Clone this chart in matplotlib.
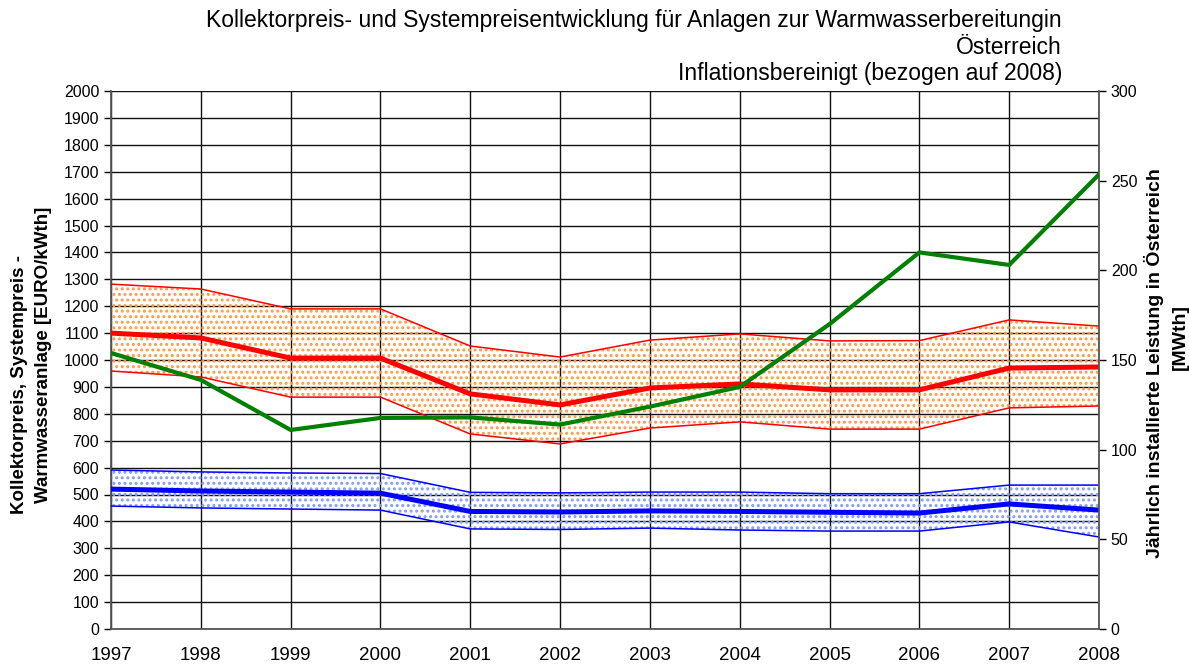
import matplotlib
matplotlib.use("Agg")
import matplotlib.pyplot as plt

plt.rcParams['font.family'] = ['Liberation Sans', 'DejaVu Sans']
plt.rcParams['hatch.linewidth'] = 1.4

years = [1997, 1998, 1999, 2000, 2001, 2002, 2003, 2004, 2005, 2006, 2007, 2008]

system_upper = [1282, 1264, 1190, 1190, 1052, 1011, 1074, 1097, 1071, 1072, 1149, 1126]
system_mean = [1100, 1082, 1007, 1007, 874, 833, 896, 911, 889, 889, 970, 974]
system_lower = [959, 937, 862, 862, 725, 688, 747, 770, 743, 743, 822, 829]

collector_upper = [591, 584, 580, 578, 508, 506, 509, 509, 503, 503, 535, 535]
collector_mean = [520, 513, 509, 505, 437, 435, 439, 437, 434, 431, 465, 442]
collector_lower = [457, 450, 446, 442, 372, 370, 375, 368, 364, 364, 398, 342]

installed_mwth = [153.9, 138.9, 111.0, 117.7, 118.0, 114.0, 124.0, 135.0, 170.0, 210.0, 203.0, 253.5]

title = ("Kollektorpreis- und Systempreisentwicklung für Anlagen zur Warmwasserbereitungin\n"
         "Österreich\n"
         "Inflationsbereinigt (bezogen auf 2008)")
left_label_lines = ["Kollektorpreis, Systempreis -", "Warmwasseranlage [EURO/kWth]"]
right_label_lines = ["Jährlich installierte Leistung in Österreich", "[MWth]"]

W, H = 1189, 664
fig = plt.figure(figsize=(W / 100, H / 100), dpi=100)
ax = fig.add_axes([111 / W, 1 - 629 / H, (1099 - 111) / W, (629 - 91) / H])

ax.fill_between(years, system_lower, system_upper, facecolor='none',
                edgecolor='#ff9a40', hatch='...', linewidth=0, zorder=2)
ax.fill_between(years, collector_lower, collector_upper, facecolor='none',
                edgecolor='#7f9cf8', hatch='...', linewidth=0, zorder=2)

ax.plot(years, system_upper, color='#ff0000', lw=1.1, zorder=3)
ax.plot(years, system_lower, color='#ff0000', lw=1.1, zorder=3)
ax.plot(years, system_mean, color='#ff0000', lw=3.6, zorder=4)
ax.plot(years, collector_upper, color='#0000ff', lw=1.1, zorder=3)
ax.plot(years, collector_lower, color='#0000ff', lw=1.1, zorder=3)
ax.plot(years, collector_mean, color='#0000ff', lw=3.6, zorder=4)

ax.set_xlim(1997, 2008)
ax.set_ylim(0, 2000)
ax.set_xticks(years)
ax.set_xticklabels([str(y) for y in years], fontsize=13.5)
ax.set_yticks(range(0, 2001, 100))
ax.tick_params(axis='y', labelsize=11.5, direction='out', length=5, width=1, colors='black')
ax.tick_params(axis='x', length=0, pad=13)
ax.grid(True, color='#111111', lw=1.0, zorder=1)
ax.set_axisbelow(True)
for s in ['top', 'right']:
    ax.spines[s].set_visible(False)
for s in ['left', 'bottom']:
    ax.spines[s].set_color('#555555')
    ax.spines[s].set_linewidth(1.3)

ax2 = ax.twinx()
ax2.plot(years, installed_mwth, color='#008000', lw=3.0, zorder=5)
ax2.set_ylim(0, 300)
ax2.set_yticks(range(0, 301, 50))
ax2.tick_params(axis='y', labelsize=11.5, direction='out', length=5, width=1)
for s in ['top', 'left', 'bottom']:
    ax2.spines[s].set_visible(False)
ax2.spines['right'].set_color('#555555')
ax2.spines['right'].set_linewidth(1.3)

# axis titles (two lines each, placed as in the reference)
label_kw = dict(rotation=90, ha='center', va='center', fontsize=13.5, fontweight='bold')
fig.text(20 / W, 1 - 385 / H, left_label_lines[0], **label_kw)
fig.text(43.5 / W, 1 - 355 / H, left_label_lines[1], **label_kw)
label_kw['fontsize'] = 14
fig.text(1154.5 / W, 1 - 363 / H, right_label_lines[0], **label_kw)
fig.text(1180 / W, 1 - 337 / H, right_label_lines[1], **label_kw)

fig.text(1062 / W, 1 - 9 / H, title, ha='right', va='top', fontsize=16.5,
         linespacing=1.2)

fig.savefig("out.png", dpi=100)
